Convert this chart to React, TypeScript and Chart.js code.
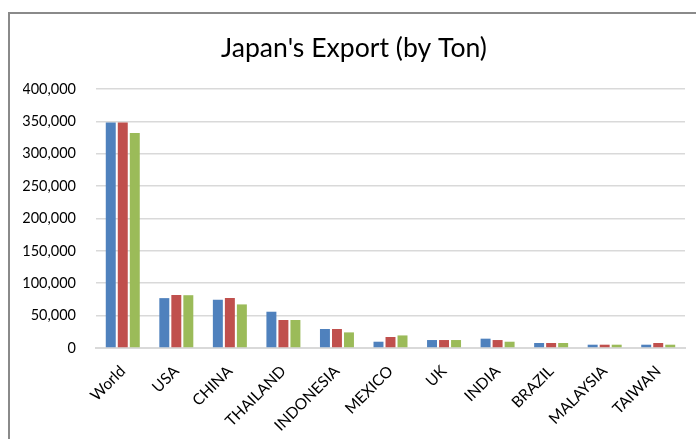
import React, { useEffect, useRef } from "react";
import { Chart, registerables } from "chart.js";

Chart.register(...registerables);

const categories = ["World", "USA", "CHINA", "THAILAND", "INDONESIA", "MEXICO", "UK", "INDIA", "BRAZIL", "MALAYSIA", "TAIWAN"];
const seriesBlue = [348000, 77000, 74500, 56000, 29300, 9700, 12300, 14400, 7700, 5100, 5100];
const seriesRed = [348000, 81800, 77200, 43200, 29300, 17000, 12300, 12300, 7700, 5100, 7700];
const seriesGreen = [332000, 81500, 67300, 43200, 24100, 19400, 12300, 9700, 7700, 5100, 5100];
const yMin = 0;
const yMax = 400000;
const yStep = 50000;
const titleText = "Japan's Export (by Ton)";

const FONT = "Lato, 'Open Sans', sans-serif";

export default function App() {
  const ref = useRef<HTMLCanvasElement | null>(null);

  useEffect(() => {
    if (!ref.current) return;
    const chart = new Chart(ref.current, {
      type: "bar",
      data: {
        labels: categories,
        datasets: [
          { label: "Series 1", data: seriesBlue, backgroundColor: "#4F81BD" },
          { label: "Series 2", data: seriesRed, backgroundColor: "#C0504D" },
          { label: "Series 3", data: seriesGreen, backgroundColor: "#9BBB59" },
        ],
      },
      options: {
        animation: false,
        responsive: false,
        devicePixelRatio: 1,
        layout: { padding: { left: 23, right: 11, top: 0, bottom: 0 } },
        datasets: {
          bar: { categoryPercentage: 0.673, barPercentage: 0.83 },
        },
        plugins: {
          legend: { display: false },
          tooltip: { enabled: false },
          title: {
            display: true,
            text: titleText,
            color: "#000",
            font: { family: FONT, size: 26.6, weight: "normal" },
            padding: { top: 32, bottom: 25 },
          },
        },
        scales: {
          x: {
            grid: { display: false },
            border: { display: true, color: "#d9d9d9", width: 2 },
            ticks: {
              color: "#000",
              font: { family: FONT, size: 15.5 },
              maxRotation: 45,
              minRotation: 45,
              padding: 6,
              autoSkip: false,
            },
            afterFit: (scale: any) => {
              scale.height = 91;
            },
          },
          y: {
            min: yMin,
            max: yMax,
            grid: { color: "#d9d9d9", lineWidth: 1.5, drawTicks: false },
            border: { display: false },
            ticks: {
              stepSize: yStep,
              color: "#000",
              font: { family: FONT, size: 14.5 },
              padding: 20,
              callback: (v: any) => Number(v).toLocaleString("en-US"),
            },
            afterFit: (scale: any) => {
              scale.width = 73;
            },
          },
        },
      },
    });
    return () => chart.destroy();
  }, []);

  return (
    <div style={{ position: "fixed", left: 0, top: 0, width: 696, height: 439, overflow: "hidden", background: "#fff" }}>
      <div
        style={{
          position: "absolute",
          left: 8,
          top: 12,
          width: 720,
          height: 520,
          border: "2px solid #8a8a8a",
          boxSizing: "border-box",
        }}
      />
      <canvas ref={ref} width={696} height={439} style={{ position: "absolute", left: 0, top: 0, display: "block" }} />
    </div>
  );
}
